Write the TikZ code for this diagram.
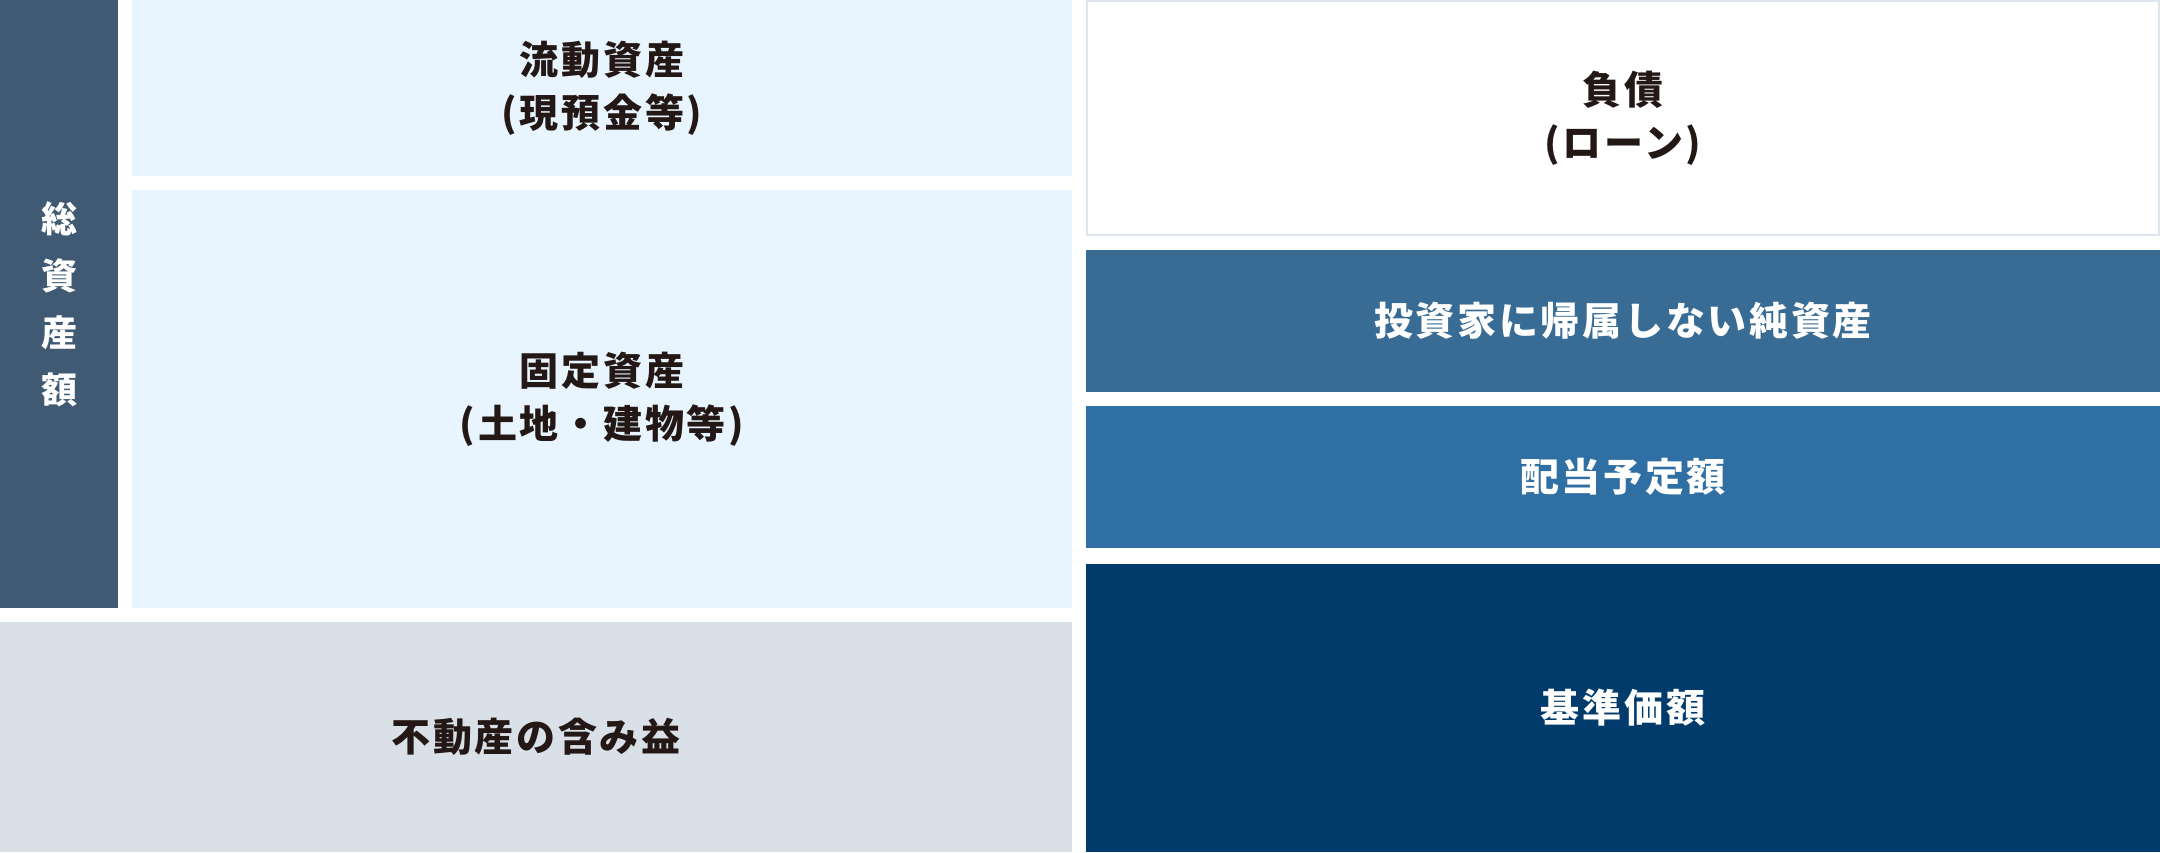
\documentclass[tikz,border=0pt]{standalone}
\usepackage{fontspec}
\newfontfamily\cjk[LetterSpace=7]{Noto Sans CJK JP}
\definecolor{barc}{HTML}{3F5A72}
\definecolor{lightc}{HTML}{E8F5FE}
\definecolor{grayc}{HTML}{D9E0E7}
\definecolor{borderc}{HTML}{DDE6EE}
\definecolor{cA}{HTML}{386C94}
\definecolor{cB}{HTML}{306FA3}
\definecolor{cC}{HTML}{003B6B}
\definecolor{textc}{HTML}{231815}
\tikzset{
  blk/.style={rectangle, draw=none, inner sep=0pt, outer sep=0pt, align=center,
    font=\cjk\bfseries\fontsize{39}{53}\selectfont},
  darktext/.style={text=textc},
  lighttext/.style={text=white}
}
\begin{document}
\begin{tikzpicture}[x=1pt,y=-1pt]
\fill[white] (0,0) rectangle (2160,852);
\useasboundingbox (0,0) rectangle (2160,852);
% left column
\node[blk, lighttext, fill=barc, minimum width=118pt, minimum height=608pt,
  font=\cjk\bfseries\fontsize{36}{57}\selectfont] (total) at (59,304) {総\\資\\産\\額};
\node[blk, darktext, fill=lightc, minimum width=940pt, minimum height=176pt] (current) at (602,88) {流動資産\\(現預金等)};
\node[blk, darktext, fill=lightc, minimum width=940pt, minimum height=418pt] (fixed) at (602,399) {固定資産\\(土地・建物等)};
\node[blk, darktext, fill=grayc, minimum width=1072pt, minimum height=230pt] (gain) at (536,737) {不動産の含み益};
% right column
\node[blk, darktext, fill=white, draw=borderc, line width=2pt, minimum width=1072pt, minimum height=234pt] (debt) at (1623,118) {負債\\(ローン)};
\node[blk, lighttext, fill=cA, minimum width=1074pt, minimum height=142pt] (nonattr) at (1623,321) {投資家に帰属しない純資産};
\node[blk, lighttext, fill=cB, minimum width=1074pt, minimum height=142pt] (div) at (1623,477) {配当予定額};
\node[blk, lighttext, fill=cC, minimum width=1074pt, minimum height=288pt] (nav) at (1623,708) {基準価額};
\end{tikzpicture}
\end{document}
